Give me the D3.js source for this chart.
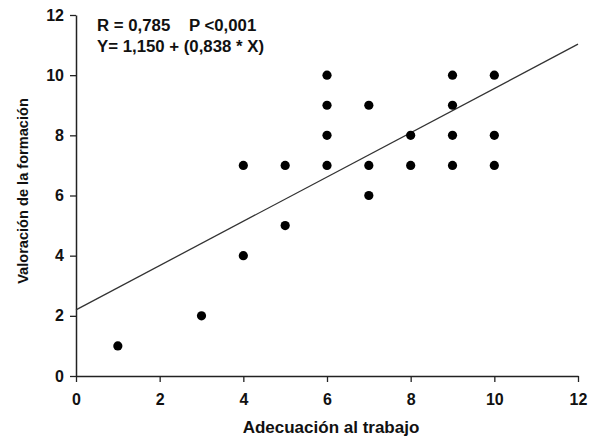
<!DOCTYPE html>
<html>
<head>
<meta charset="utf-8">
<script src="https://cdn.jsdelivr.net/npm/d3@7"></script>
<style>
  body { margin: 0; background: #fff; }
  text { font-family: "Liberation Sans", Arial, sans-serif; font-weight: bold; }
</style>
</head>
<body>
<svg id="chart"></svg>
<script>
// observed points (x = adecuación, y = valoración)
const xValues = [1, 3, 4, 4, 5, 5, 6, 6, 6, 6, 7, 7, 7, 8, 8, 9, 9, 9, 9, 10, 10, 10];
const yValues = [1, 2, 4, 7, 5, 7, 7, 8, 9, 10, 6, 7, 9, 7, 8, 7, 8, 9, 10, 7, 8, 10];

// regression line as drawn (start and end)
const lineX = [0, 12];
const lineY = [2.2, 11.03];

const xTicks = [0, 2, 4, 6, 8, 10, 12];
const yTicks = [0, 2, 4, 6, 8, 10, 12];

const statsText = ["R = 0,785    P <0,001", "Y= 1,150 + (0,838 * X)"];

const width = 592, height = 439;
const margin = { top: 15, bottom: 63, left: 76, right: 14 };

const svg = d3.select("#chart")
    .attr("width", width)
    .attr("height", height);

const xScale = d3.scaleLinear()
    .domain([0, 12])
    .range([margin.left, width - margin.right]);

const yScale = d3.scaleLinear()
    .domain([0, 12])
    .range([height - margin.bottom, margin.top]);

// Axes
const xAxis = svg.append("g")
    .attr("transform", `translate(0,${height - margin.bottom})`)
    .call(d3.axisBottom(xScale).tickValues(xTicks).tickSize(6).tickSizeOuter(0).tickPadding(12));

const yAxis = svg.append("g")
    .attr("transform", `translate(${margin.left},0)`)
    .call(d3.axisLeft(yScale).tickValues(yTicks).tickSize(6).tickSizeOuter(0).tickPadding(6));

[xAxis, yAxis].forEach(g => {
    g.select(".domain").attr("stroke", "#222").attr("stroke-width", 1.5);
    g.selectAll(".tick line").attr("stroke", "#222").attr("stroke-width", 1.3);
    g.selectAll(".tick text")
        .attr("fill", "#111")
        .style("font-size", "16px")
        .style("font-weight", "bold");
});

// Regression line
svg.append("line")
    .attr("x1", xScale(lineX[0]))
    .attr("y1", yScale(lineY[0]))
    .attr("x2", xScale(lineX[1]))
    .attr("y2", yScale(lineY[1]))
    .attr("stroke", "#333")
    .attr("stroke-width", 1.3);

// Points
svg.selectAll("circle.pt")
    .data(xValues.map((x, i) => ({ x: x, y: yValues[i] })))
    .enter().append("circle")
    .attr("class", "pt")
    .attr("cx", d => xScale(d.x))
    .attr("cy", d => yScale(d.y))
    .attr("r", 4.6)
    .attr("fill", "#000");

// Stats annotation
svg.selectAll("text.stats")
    .data(statsText)
    .enter().append("text")
    .attr("class", "stats")
    .attr("x", 97)
    .attr("y", (d, i) => 31 + i * 20.5)
    .attr("fill", "#111")
    .style("font-size", "16.8px")
    .style("white-space", "pre")
    .attr("xml:space", "preserve")
    .text(d => d);

// Axis titles
svg.append("text")
    .attr("x", 331)
    .attr("y", 433)
    .attr("text-anchor", "middle")
    .attr("fill", "#111")
    .style("font-size", "17px")
    .text("Adecuación al trabajo");

svg.append("text")
    .attr("transform", "translate(28,191) rotate(-90)")
    .attr("text-anchor", "middle")
    .attr("fill", "#111")
    .style("font-size", "14.6px")
    .text("Valoración de la formación");
</script>
</body>
</html>
